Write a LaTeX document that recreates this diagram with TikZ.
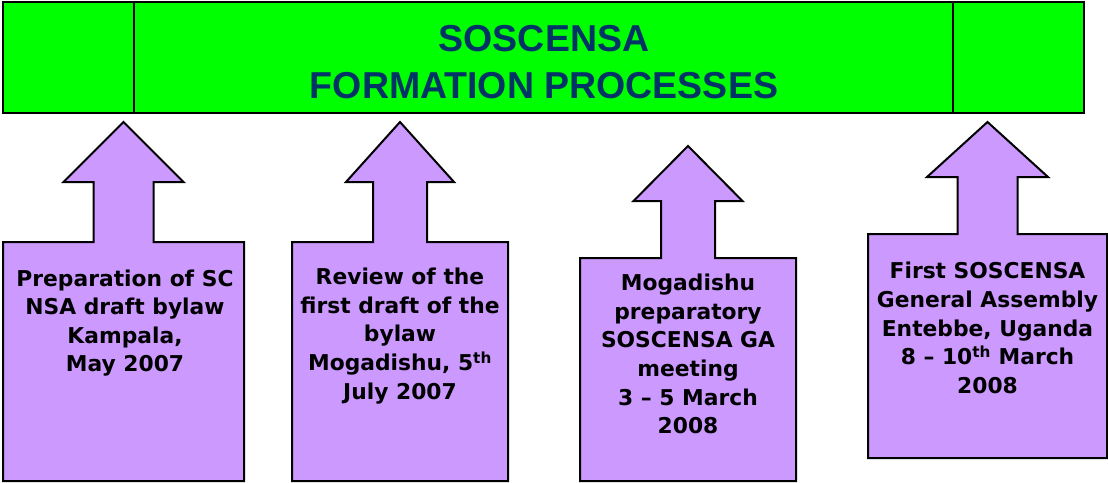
\documentclass[tikz,border=0pt]{standalone}
\usepackage{fontspec}
\setmainfont{DejaVu Sans}
\newfontfamily\headfont{Liberation Sans}
\usepackage{tikz}
\usetikzlibrary{positioning}
\definecolor{bannergreen}{HTML}{00FF00}
\definecolor{calloutlilac}{HTML}{CC99FF}
\definecolor{titlenavy}{HTML}{003366}

\begin{document}
\begin{tikzpicture}
    [x=1pt, y=-1pt,
    banner/.style={
      draw=black, line width=2pt, fill=bannergreen
      },
    callout/.style={
      draw=black, line width=2pt, fill=calloutlilac, line join=miter
      },
    txt/.style={
      align=center, inner sep=0pt, text=black,
      font=\bfseries\fontsize{21.8}{28.6}\selectfont
      }]

    \useasboundingbox (0,0) rectangle (1108,482);

    % top banner with its two side cells
    \draw[banner] (3,2) rectangle (1084,113);
    \draw[line width=2pt] (134,2) -- (134,113);
    \draw[line width=2pt] (953,2) -- (953,113);
    \node (title) [align=center, inner sep=0pt, text=titlenavy,
      font=\headfont\bfseries\fontsize{37.5}{47}\selectfont] at (544,62)
      {SOSCENSA\\FORMATION PROCESSES};

    % up arrow callouts
    \draw[callout] (3,481) -- (3,242) -- (93.5,242) -- (93.5,182) -- (63.5,182) -- (123.5,122)
      -- (183.5,182) -- (153.5,182) -- (153.5,242) -- (244,242) -- (244,481) -- cycle;
    \draw[callout] (292,481) -- (292,242) -- (373,242) -- (373,182) -- (346,182) -- (400,122)
      -- (454,182) -- (427,182) -- (427,242) -- (508,242) -- (508,481) -- cycle;
    \draw[callout] (580,481) -- (580,258) -- (661,258) -- (661,201) -- (633.5,201) -- (688,146)
      -- (742.5,201) -- (715,201) -- (715,258) -- (796,258) -- (796,481) -- cycle;
    \draw[callout] (868,458) -- (868,234) -- (957.5,234) -- (957.5,177) -- (927,177) -- (987.5,122)
      -- (1048,177) -- (1017.5,177) -- (1017.5,234) -- (1107,234) -- (1107,458) -- cycle;

    \node (kampala) [txt] at (125,323) {Preparation of SC\\NSA draft bylaw\\Kampala,\\May 2007};
    \node (review) [txt] at (400,336) {Review of the\\first draft of the\\bylaw\\Mogadishu, 5\textsuperscript{th}\\July 2007};
    \node (mogadishu) [txt] at (688,354) {Mogadishu\\preparatory\\SOSCENSA GA\\meeting\\3 -- 5 March\\2008};
    \node (entebbe) [txt] at (987.5,328) {First SOSCENSA\\General Assembly\\Entebbe, Uganda\\8 -- 10\textsuperscript{th} March\\2008};

  \end{tikzpicture}
\end{document}
